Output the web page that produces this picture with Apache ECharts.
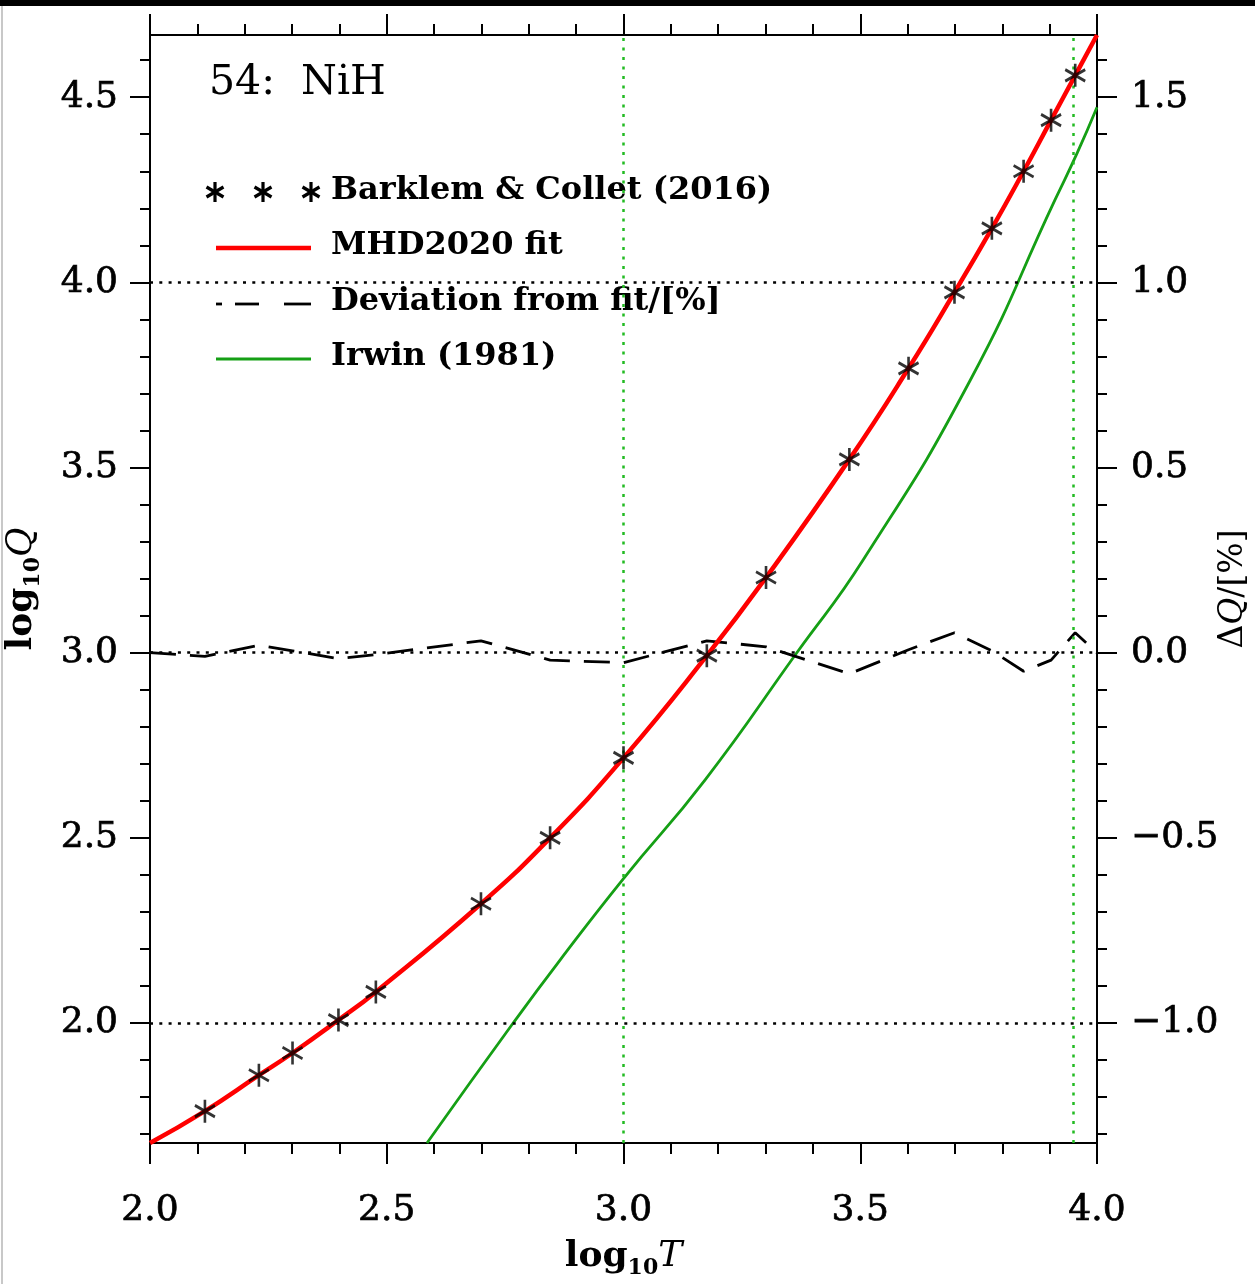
<html>
<head>
  <meta charset="utf-8" />
  <script src="https://cdn.jsdelivr.net/npm/echarts@6/dist/echarts.min.js"></script>
  <style>
    html, body { margin: 0; padding: 0; background: #fff; overflow: hidden; }
    #chart { width: 1255px; height: 1284px; }
  </style>
</head>
<body>
  <div id="chart"></div>
  <script>
    // Barklem & Collet (2016) points
    var logT = [2.116, 2.230, 2.301, 2.398, 2.477, 2.699, 2.845, 3.000, 3.176, 3.301, 3.477, 3.602, 3.699, 3.778, 3.845, 3.903, 3.954];
    var logQ = [1.762, 1.859, 1.919, 2.008, 2.084, 2.322, 2.500, 2.716, 2.992, 3.203, 3.522, 3.768, 3.973, 4.146, 4.300, 4.438, 4.559];
    // MHD2020 fit curve
    var fitT = [2.000, 2.116, 2.230, 2.301, 2.398, 2.477, 2.699, 2.845, 3.000, 3.176, 3.301, 3.477, 3.602, 3.699, 3.778, 3.845, 3.903, 3.954, 4.000];
    var fitQ = [1.676, 1.762, 1.859, 1.919, 2.008, 2.084, 2.322, 2.500, 2.716, 2.992, 3.203, 3.522, 3.768, 3.973, 4.146, 4.300, 4.438, 4.559, 4.668];
    // deviation from fit [%]
    var devT = [2.000, 2.116, 2.230, 2.301, 2.398, 2.477, 2.699, 2.845, 3.000, 3.176, 3.301, 3.477, 3.602, 3.699, 3.778, 3.845, 3.903, 3.954, 4.000];
    var devQ = [0.000, -0.010, 0.020, 0.005, -0.016, -0.005, 0.032, -0.020, -0.027, 0.032, 0.016, -0.057, 0.008, 0.054, 0.005, -0.050, -0.020, 0.054, 0.000];
    // Irwin (1981)
    var irwinT = [2.585, 2.767, 2.866, 3.000, 3.172, 3.366, 3.506, 3.732, 3.911, 3.958, 4.000];
    var irwinQ = [1.676, 2.000, 2.170, 2.390, 2.656, 3.000, 3.250, 3.735, 4.222, 4.349, 4.473];

    var qTicks = [2.0, 2.5, 3.0, 3.5, 4.0, 4.5];
    var qMinor = [1.7, 1.8, 1.9, 2.0, 2.1, 2.2, 2.3, 2.4, 2.5, 2.6, 2.7, 2.8, 2.9, 3.0, 3.1, 3.2, 3.3, 3.4, 3.5, 3.6, 3.7, 3.8, 3.9, 4.0, 4.1, 4.2, 4.3, 4.4, 4.5, 4.6];
    var dTicks = [-1.0, -0.5, 0.0, 0.5, 1.0, 1.5];
    var dMinor = [-1.3, -1.2, -1.1, -1.0, -0.9, -0.8, -0.7, -0.6, -0.5, -0.4, -0.3, -0.2, -0.1, 0.0, 0.1, 0.2, 0.3, 0.4, 0.5, 0.6, 0.7, 0.8, 0.9, 1.0, 1.1, 1.2, 1.3, 1.4, 1.5, 1.6];
    var refQ = [2.0, 3.0, 4.0];
    var refT = [3.0, 3.954];

    var Q_MIN = 1.676, Q_MAX = 4.668;
    var FONT = '"DejaVu Serif", serif';
    var GREEN = '#159f15';

    function zip(a, b) {
      return a.map(function (v, i) { return [v, b[i]]; });
    }

    var labelStyle = {
      fontFamily: FONT, fontSize: 36, color: '#000',
      textBorderColor: '#000', textBorderWidth: 0.7,
      formatter: function (v) { return v < 0 ? '\u2212' + Math.abs(v).toFixed(1) : v.toFixed(1); }
    };

    function yAxisMajor(pos, min, max, ticks, extra) {
      var ax = {
        type: 'value', position: pos, min: min, max: max,
        nameMoveOverlap: false,
        axisLine: { show: true, lineStyle: { color: '#000', width: 2 } },
        axisTick: { show: true, length: 20, customValues: ticks, lineStyle: { color: '#000', width: 2 } },
        axisLabel: Object.assign({ customValues: ticks, margin: pos === 'left' ? 32 : 34 }, labelStyle),
        splitLine: { show: false }
      };
      return Object.assign(ax, extra || {});
    }
    function yAxisMinor(pos, min, max, ticks) {
      return {
        type: 'value', position: pos, min: min, max: max,
        axisLine: { show: false },
        axisTick: { show: true, length: 10, customValues: ticks, lineStyle: { color: '#000', width: 2 } },
        axisLabel: { show: false },
        splitLine: { show: false }
      };
    }
    function xAxisDef(pos, showLabel, extra) {
      var ax = {
        type: 'value', position: pos, min: 2, max: 4, interval: 0.5,
        nameMoveOverlap: false,
        axisLine: { show: true, onZero: false, lineStyle: { color: '#000', width: 2 } },
        axisTick: { show: true, length: 21, lineStyle: { color: '#000', width: 2 } },
        minorTick: { show: true, splitNumber: 5, length: 11, lineStyle: { color: '#000', width: 2 } },
        axisLabel: showLabel ? Object.assign({ margin: 50 }, labelStyle) : { show: false },
        splitLine: { show: false },
        minorSplitLine: { show: false }
      };
      return Object.assign(ax, extra || {});
    }

    // legend asterisk built from three short lines
    function legendStar(cx, cy) {
      var s = { stroke: '#000', lineWidth: 3.2 };
      return {
        type: 'group', x: cx, y: cy, silent: true,
        children: [
          { type: 'line', shape: { x1: 0, y1: -10, x2: 0, y2: 10 }, style: s },
          { type: 'line', shape: { x1: -8.5, y1: -5, x2: 8.5, y2: 5 }, style: s },
          { type: 'line', shape: { x1: -8.5, y1: 5, x2: 8.5, y2: -5 }, style: s }
        ]
      };
    }
    function legendLine(x1, x2, y, color, w) {
      return { type: 'line', silent: true, shape: { x1: x1, y1: y, x2: x2, y2: y }, style: { stroke: color, lineWidth: w } };
    }
    function legendText(y, txt) {
      return { type: 'text', x: 331, y: y, silent: true, style: { text: txt, font: 'bold 32px ' + FONT, fill: '#000', verticalAlign: 'middle' } };
    }

    var chart = echarts.init(document.getElementById('chart'), null, { renderer: 'canvas' });

    var asterisk = 'path://M10,0L10,20M1.34,5L18.66,15M1.34,15L18.66,5';

    var option = {
      animation: false,
      backgroundColor: '#fff',
      title: {
        text: '54:  NiH', left: 204, top: 58,
        textStyle: { fontFamily: FONT, fontSize: 41, fontWeight: 'normal', color: '#000' }
      },
      grid: { left: 150, right: 158, top: 35, bottom: 141, containLabel: false, outerBoundsMode: 'none' },
      xAxis: [
        xAxisDef('bottom', true, {
          name: '{b|log}{s|10}{i|T}', nameLocation: 'middle', nameGap: 92,
          nameTextStyle: {
            rich: {
              b: { fontFamily: FONT, fontSize: 36, fontWeight: 'bold', color: '#000' },
              s: { fontFamily: FONT, fontSize: 22, fontWeight: 'bold', color: '#000', padding: [22, 0, 0, 0] },
              i: { fontFamily: FONT, fontSize: 36, fontStyle: 'italic', color: '#000' }
            }
          }
        }),
        xAxisDef('top', false)
      ],
      yAxis: [
        yAxisMajor('left', Q_MIN, Q_MAX, qTicks, {
          name: '{b|log}{s|10}{i|Q}', nameLocation: 'middle', nameGap: 106,
          nameTextStyle: {
            rich: {
              b: { fontFamily: FONT, fontSize: 36, fontWeight: 'bold', color: '#000' },
              s: { fontFamily: FONT, fontSize: 22, fontWeight: 'bold', color: '#000', padding: [22, 0, 0, 0] },
              i: { fontFamily: FONT, fontSize: 36, fontStyle: 'italic', color: '#000' }
            }
          }
        }),
        yAxisMinor('left', Q_MIN, Q_MAX, qMinor),
        yAxisMajor('right', Q_MIN - 3, Q_MAX - 3, dTicks, {
          name: '\u0394{i|Q}/[%]', nameLocation: 'middle', nameGap: 120,
          nameTextStyle: {
            fontFamily: FONT, fontSize: 33, color: '#000',
            rich: { i: { fontFamily: FONT, fontSize: 33, fontStyle: 'italic', color: '#000' } }
          }
        }),
        yAxisMinor('right', Q_MIN - 3, Q_MAX - 3, dMinor)
      ],
      series: [
        {
          name: 'Irwin (1981)', type: 'line', xAxisIndex: 0, yAxisIndex: 0,
          data: zip(irwinT, irwinQ), smooth: true, showSymbol: false, z: 3,
          lineStyle: { color: GREEN, width: 2.8 },
          markLine: {
            silent: true, symbol: ['none', 'none'], label: { show: false },
            lineStyle: { color: '#22bb22', width: 2.5, type: [3, 6.5] },
            data: refT.map(function (v) { return { xAxis: v }; })
          }
        },
        {
          name: 'Deviation from fit/[%]', type: 'line', xAxisIndex: 0, yAxisIndex: 2,
          data: zip(devT, devQ), showSymbol: false, z: 4,
          lineStyle: { color: '#000', width: 2.8, type: [26, 14] }
        },
        {
          name: 'MHD2020 fit', type: 'line', xAxisIndex: 0, yAxisIndex: 0,
          data: zip(fitT, fitQ), smooth: true, showSymbol: false, z: 5,
          lineStyle: { color: '#ff0000', width: 4.5 },
          markLine: {
            silent: true, symbol: ['none', 'none'], label: { show: false },
            lineStyle: { color: '#000', width: 2.5, type: [3, 6.3] },
            data: refQ.map(function (v) { return { yAxis: v }; })
          }
        },
        {
          name: 'Barklem & Collet (2016)', type: 'scatter', xAxisIndex: 0, yAxisIndex: 0,
          data: zip(logT, logQ), symbol: asterisk, symbolSize: [20, 23], z: 6,
          itemStyle: { color: 'rgba(0,0,0,0)', borderColor: '#000', borderWidth: 2.8 }
        }
      ],
      graphic: [
        { type: 'rect', silent: true, shape: { x: 0, y: 0, width: 1255, height: 6 }, style: { fill: '#000' } },
        { type: 'rect', silent: true, shape: { x: 1, y: 6, width: 2, height: 1278 }, style: { fill: '#c8c8c8' } },
        legendStar(215, 192), legendStar(263, 192), legendStar(311, 192),
        legendText(191, 'Barklem & Collet (2016)'),
        legendLine(216, 311, 248, '#ff0000', 4.5),
        legendText(246, 'MHD2020 fit'),
        legendLine(216, 222, 304, '#000', 2.8),
        legendLine(235, 259, 304, '#000', 2.8),
        legendLine(284, 311, 304, '#000', 2.8),
        legendText(302, 'Deviation from fit/[%]'),
        legendLine(216, 311, 359, GREEN, 2.8),
        legendText(357, 'Irwin (1981)')
      ]
    };

    chart.setOption(option);
  </script>
</body>
</html>
